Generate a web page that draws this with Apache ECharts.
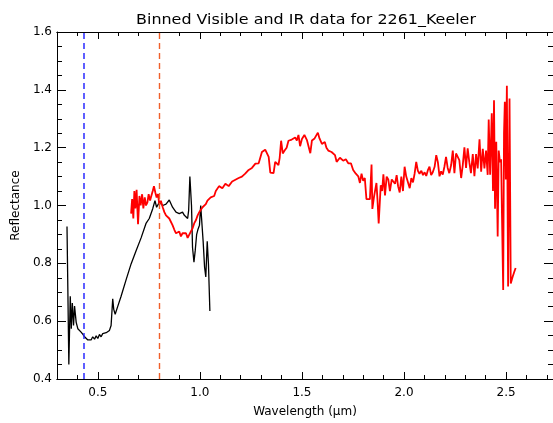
<!DOCTYPE html>
<html>
<head>
<meta charset="utf-8">
<script src="https://cdn.jsdelivr.net/npm/echarts@6/dist/echarts.min.js"></script>
<style>
  html, body { margin: 0; padding: 0; background: #fff; }
  #chart { width: 553px; height: 423px; }
</style>
</head>
<body>
<div id="chart"></div>
<script>
// visible spectrum (black)
const visWave = [0.349,0.353,0.358,0.365,0.370,0.375,0.381,0.386,0.394,0.402,0.410,0.418,0.427,0.435,0.443,0.451,0.459,0.467,0.475,0.484,0.492,0.500,0.508,0.516,0.524,0.532,0.541,0.549,0.557,0.565,0.573,0.578,0.585,0.598,0.614,0.638,0.663,0.687,0.712,0.736,0.752,0.769,0.780,0.788,0.801,0.818,0.834,0.850,0.866,0.883,0.899,0.907,0.915,0.924,0.932,0.940,0.945,0.951,0.959,0.964,0.971,0.977,0.984,0.990,0.993,0.998,1.004,1.016,1.023,1.029,1.036,1.042,1.049]
const visRefl = [0.927,0.717,0.450,0.686,0.574,0.663,0.585,0.652,0.596,0.574,0.580,0.562,0.554,0.546,0.549,0.535,0.541,0.535,0.546,0.538,0.549,0.540,0.554,0.546,0.557,0.551,0.560,0.557,0.568,0.585,0.677,0.641,0.624,0.652,0.686,0.742,0.798,0.843,0.888,0.938,0.955,0.989,1.017,0.994,1.011,1.000,1.005,1.019,0.994,0.977,0.972,0.966,0.977,0.966,0.972,0.955,0.983,1.100,0.999,0.854,0.804,0.843,0.899,0.916,0.910,0.932,1.000,0.876,0.787,0.753,0.876,0.798,0.635]

// IR spectrum (red)
const irWave = [0.663,0.668,0.674,0.679,0.684,0.690,0.697,0.704,0.710,0.717,0.723,0.730,0.736,0.743,0.749,0.756,0.762,0.769,0.775,0.782,0.788,0.795,0.801,0.809,0.818,0.826,0.834,0.842,0.850,0.858,0.866,0.875,0.883,0.891,0.899,0.907,0.915,0.924,0.932,0.940,0.948,0.956,0.964,0.972,0.981,0.989,0.997,1.005,1.013,1.029,1.037,1.045,1.053,1.070,1.078,1.094,1.110,1.125,1.141,1.158,1.174,1.190,1.206,1.222,1.239,1.255,1.272,1.288,1.304,1.320,1.328,1.337,1.345,1.353,1.361,1.369,1.377,1.385,1.391,1.398,1.406,1.415,1.425,1.434,1.450,1.467,1.475,1.483,1.491,1.500,1.512,1.525,1.541,1.549,1.562,1.570,1.578,1.586,1.598,1.612,1.620,1.629,1.645,1.662,1.670,1.686,1.702,1.715,1.727,1.740,1.751,1.764,1.776,1.784,1.792,1.800,1.808,1.816,1.825,1.833,1.841,1.845,1.853,1.865,1.870,1.876,1.886,1.893,1.899,1.907,1.915,1.923,1.931,1.940,1.948,1.956,1.964,1.971,1.979,1.987,1.995,2.003,2.011,2.020,2.028,2.036,2.044,2.052,2.060,2.068,2.076,2.085,2.093,2.101,2.109,2.117,2.125,2.133,2.141,2.150,2.158,2.166,2.174,2.182,2.190,2.198,2.206,2.214,2.222,2.231,2.239,2.247,2.255,2.263,2.271,2.280,2.288,2.296,2.304,2.312,2.320,2.328,2.337,2.345,2.353,2.361,2.370,2.378,2.386,2.394,2.402,2.410,2.415,2.422,2.430,2.436,2.441,2.446,2.452,2.459,2.464,2.470,2.476,2.480,2.486,2.490,2.494,2.499,2.504,2.510,2.517,2.523,2.532,2.540,2.547]
const irRefl = [0.972,1.022,0.955,1.050,0.990,1.054,0.935,1.033,1.000,1.039,0.990,1.028,1.000,1.011,1.039,1.017,1.033,1.050,1.067,1.044,1.028,1.039,1.005,1.016,0.994,0.977,0.966,0.961,0.955,0.961,0.932,0.916,0.904,0.899,0.910,0.893,0.904,0.899,0.904,0.888,0.899,0.910,0.921,0.938,0.950,0.966,0.977,0.983,0.994,1.005,1.017,1.022,1.028,1.033,1.050,1.067,1.060,1.075,1.067,1.083,1.089,1.095,1.100,1.110,1.123,1.130,1.145,1.146,1.185,1.193,1.190,1.168,1.114,1.118,1.112,1.151,1.145,1.140,1.165,1.224,1.180,1.190,1.200,1.224,1.228,1.235,1.225,1.244,1.205,1.230,1.244,1.225,1.181,1.225,1.232,1.230,1.252,1.232,1.213,1.220,1.200,1.190,1.185,1.174,1.151,1.165,1.155,1.160,1.146,1.146,1.123,1.110,1.101,1.078,1.110,1.085,1.095,1.022,1.028,1.022,1.142,0.988,1.030,1.078,1.022,0.938,1.070,1.050,1.108,1.035,1.100,1.090,1.050,1.090,1.085,1.075,1.105,1.067,1.045,1.100,1.050,1.134,1.100,1.105,1.060,1.095,1.080,1.110,1.151,1.120,1.110,1.120,1.105,1.115,1.102,1.122,1.134,1.105,1.115,1.134,1.174,1.150,1.101,1.118,1.107,1.134,1.168,1.130,1.112,1.140,1.190,1.112,1.180,1.174,1.157,1.095,1.140,1.201,1.130,1.198,1.150,1.112,1.178,1.101,1.178,1.128,1.229,1.117,1.196,1.128,1.190,1.106,1.297,1.106,1.319,1.050,1.364,0.989,1.220,0.893,1.190,1.150,1.160,0.966,0.708,1.250,1.359,1.090,1.414,0.720,1.370,0.730,0.753,0.770,0.784]

// dashed reference wavelengths
const blueLine = 0.435
const orangeLine = 0.8

// ticks
const xMajorTicks = [0.5, 1.0, 1.5, 2.0, 2.5]
const xMinorTicks = [0.4, 0.6, 0.7, 0.8, 0.9, 1.1, 1.2, 1.3, 1.4, 1.6, 1.7, 1.8, 1.9, 2.1, 2.2, 2.3, 2.4, 2.6, 2.7]

const chart = echarts.init(document.getElementById('chart'))
const font = 'DejaVu Sans'

const baseX = {
  type: 'value',
  min: 0.3,
  max: 2.73,
  axisLine: { show: true, onZero: false, lineStyle: { color: '#000', width: 1 } },
  splitLine: { show: false }
}
const xAxes = [
  { ...baseX, position: 'bottom',
    axisTick: { inside: true, length: 7, customValues: xMajorTicks, lineStyle: { color: '#000' } },
    axisLabel: { customValues: xMajorTicks, formatter: v => v.toFixed(1), color: '#000', fontFamily: font, fontSize: 12, margin: 8 },
    name: 'Wavelength (\u03bcm)', nameLocation: 'middle', nameGap: 27,
    nameTextStyle: { color: '#000', fontFamily: font, fontSize: 12 } },
  { ...baseX, position: 'bottom',
    axisTick: { inside: true, length: 4, customValues: xMinorTicks, lineStyle: { color: '#000' } },
    axisLabel: { show: false } },
  { ...baseX, position: 'top',
    axisTick: { inside: true, length: 7, customValues: xMajorTicks, lineStyle: { color: '#000' } },
    axisLabel: { show: false } },
  { ...baseX, position: 'top',
    axisTick: { inside: true, length: 4, customValues: xMinorTicks, lineStyle: { color: '#000' } },
    axisLabel: { show: false } }
]

const baseY = {
  type: 'value',
  min: 0.4,
  max: 1.6,
  interval: 0.2,
  axisLine: { show: true, onZero: false, lineStyle: { color: '#000', width: 1 } },
  axisTick: { inside: true, length: 9, lineStyle: { color: '#000' } },
  minorTick: { show: true, splitNumber: 4, length: 5, lineStyle: { color: '#000' } },
  splitLine: { show: false }
}
const yAxes = [
  { ...baseY, position: 'left',
    axisLabel: { formatter: v => v.toFixed(1), color: '#000', fontFamily: font, fontSize: 12, margin: 5 },
    name: 'Reflectance', nameLocation: 'middle', nameGap: 28,
    nameTextStyle: { color: '#000', fontFamily: font, fontSize: 12 } },
  { ...baseY, position: 'right', axisLabel: { show: false } }
]

const option = {
  animation: false,
  backgroundColor: '#fff',
  // title drawn slightly widened to match the plotting font
  graphic: [{
    type: 'text', x: 306, y: 20, scaleX: 1.18,
    style: {
      text: 'Binned Visible and IR data for 2261_Keeler',
      fontFamily: font, fontSize: 13.5, fill: '#000',
      align: 'center', verticalAlign: 'middle'
    }
  }],
  grid: { left: 57, right: -3, top: 32, bottom: 35 },
  xAxis: xAxes,
  yAxis: yAxes,
  series: [
    {
      type: 'line', name: 'vis', symbol: 'none',
      data: visWave.map((w, i) => [w, visRefl[i]]),
      lineStyle: { color: '#000', width: 1.3 },
      markLine: {
        symbol: 'none', silent: true, label: { show: false },
        data: [
          { xAxis: blueLine, lineStyle: { color: '#2a2aff', type: [6, 4], width: 1.5 } },
          { xAxis: orangeLine, lineStyle: { color: '#f0602a', type: [6, 4], width: 1.4 } }
        ]
      }
    },
    {
      type: 'line', name: 'ir', symbol: 'none',
      data: irWave.map((w, i) => [w, irRefl[i]]),
      lineStyle: { color: '#ff0000', width: 1.8 }
    }
  ]
}
chart.setOption(option)
</script>
</body>
</html>
